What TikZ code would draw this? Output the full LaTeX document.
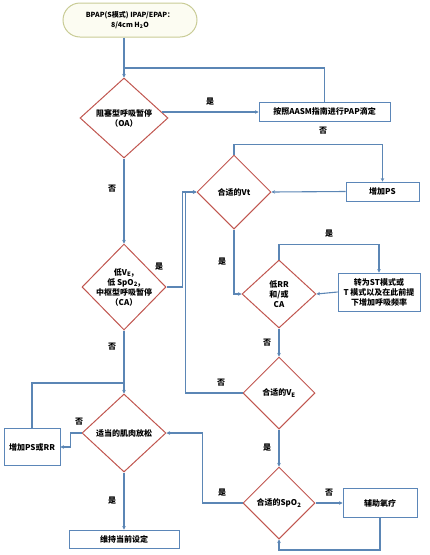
\documentclass[tikz,border=0pt]{standalone}
\usepackage{fontspec}
\setmainfont{Noto Sans CJK SC}
\usepackage{xcolor}
\definecolor{FlowBlue}{HTML}{5B86B5}
\definecolor{DiaRed}{HTML}{C0564F}
\definecolor{BoxBlue}{HTML}{5B86B8}
\definecolor{StartOlive}{HTML}{C9CC96}
\definecolor{StartCream}{HTML}{FCFCF2}
\usepackage{tikz}
\usetikzlibrary{arrows.meta,calc,positioning,shapes.geometric}

\begin{document}
\begin{tikzpicture}[
  x=1pt,y=-1pt,
  box/.style={draw=BoxBlue,fill=white,line width=0.9pt,inner sep=1pt,align=center,font=\bfseries\fontsize{8}{10}\selectfont},
  dia/.style={diamond,draw=DiaRed,line width=1pt,inner sep=0pt},
  txt/.style={align=center,font=\bfseries\fontsize{8}{10}\selectfont},
  tag/.style={font=\bfseries\fontsize{8}{10}\selectfont},
  flow/.style={-{Stealth[length=3.5pt,width=3.5pt]},draw=FlowBlue,line width=1.1pt},
  link/.style={draw=FlowBlue,line width=1.1pt}
]
\useasboundingbox (0,0) rectangle (430,555);

\node[draw=StartOlive,fill=StartCream,rounded corners=17pt,minimum width=134pt,minimum height=34pt,line width=1pt,align=center,font=\bfseries\fontsize{7}{10}\selectfont] (start) at (130,20) {BPAP(S模式)\ IPAP/EPAP：\\8/4cm H\textsubscript{2}O};

\node[dia,minimum width=88pt,minimum height=80pt] (oa) at (124,118) {};
\node[txt] (oa-t) at (oa) {阻塞型呼吸暂停\\（OA）};
\node[box,minimum width=131pt,minimum height=19pt] (aasm) at (324.5,111.5) {按照AASM指南进行PAP滴定};

\node[dia,minimum width=74pt,minimum height=74pt] (vt) at (234,192) {};
\node[txt] (vt-t) at (vt) {合适的Vt};
\node[box,minimum width=73pt,minimum height=19pt] (ps) at (382.5,191.5) {增加PS};

\node[dia,minimum width=84pt,minimum height=86pt] (ca) at (124,287) {};
\node[txt] (ca-t) at (ca) {低V\textsubscript{E},\\低 SpO\textsubscript{2},\\中枢型呼吸暂停\\（CA）};

\node[dia,minimum width=74pt,minimum height=68pt] (rr) at (279,294) {};
\node[txt] (rr-t) at (rr) {低RR\\和/或\\CA};
\node[box,minimum width=82pt,minimum height=38pt] (st) at (379,292) {转为ST模式或\\T 模式以及在此前提\\下增加呼吸频率};

\node[dia,minimum width=72pt,minimum height=72pt] (ve) at (279,393) {};
\node[txt] (ve-t) at (ve) {合适的V\textsubscript{E}};

\node[dia,minimum width=84pt,minimum height=78pt] (mr) at (124,433) {};
\node[txt] (mr-t) at (mr) {适当的肌肉放松};
\node[box,minimum width=56pt,minimum height=37pt] (psrr) at (32,447) {增加PS或RR};

\node[dia,minimum width=72pt,minimum height=72pt] (spo) at (279,503) {};
\node[txt] (spo-t) at (spo) {合适的SpO\textsubscript{2}};
\node[box,minimum width=74pt,minimum height=29pt] (oxy) at (380,503) {辅助氧疗};
\node[box,minimum width=110pt,minimum height=18pt] (keep) at (124,539) {维持当前设定};

\coordinate (j1) at (124,68);
\coordinate (j2) at (124,383);

\draw[flow] (start.south -| oa.north) -- (oa.north);
\draw[link] (aasm.north) |- (j1);
\draw[flow] (oa.9) -- (oa.9 -| aasm.west) node[tag,midway,above=3pt] (y1) {是};
\draw[flow] (oa.south) -- (ca.north) node[tag,pos=0.35,left=4pt] (n1) {否};
\draw[flow] (vt.north) -- ++(0,-10) -| (ps.north) node[tag,pos=0.3,above=6pt] (n2) {否};
\draw[flow] (ps.west) -- (vt.east);
\draw[flow] (ca.east) -- ++(16,0) |- (vt.west);
\node[tag] (y2) at (159,267) {是};
\draw[flow] (ca.south) -- (mr.north) node[tag,pos=0.25,left=4pt] (n3) {否};
\draw[link] (psrr.north) |- (j2);
\draw[flow] (vt.south) |- (rr.west) node[tag,pos=0.25,left=4pt] (y3) {是};
\draw[flow] (rr.north) -- ++(0,-15) -| (st.north) node[tag,pos=0.25,above=3pt] (y4) {是};
\draw[flow] (st.west) -- (rr.east);
\draw[flow] (rr.south) -- (ve.north) node[tag,midway,left=4pt] (n4) {否};
\draw[flow] (ve.west) -- ++(-57,0) |- (vt.west);
\node[tag] (n5) at (221,383) {否};
\draw[flow] (ve.south) -- (spo.north) node[tag,midway,left=4pt] (y5) {是};
\draw[flow] (spo.west) -- ++(-40,0) |- (mr.east);
\node[tag] (y6) at (222,493) {是};
\draw[flow] (spo.east) -- (oxy.west) node[tag,midway,above=3pt] (n6) {否};
\draw[flow] (oxy.south) -- ++(0,32) -| (spo.south);
\draw[flow] (mr.west) -- ++(-11,0) |- (psrr.east);
\node[tag] (n7) at (79,422) {否};
\draw[flow] (mr.south) -- (keep.north) node[tag,midway,left=4pt] (y7) {是};
\end{tikzpicture}
\end{document}
